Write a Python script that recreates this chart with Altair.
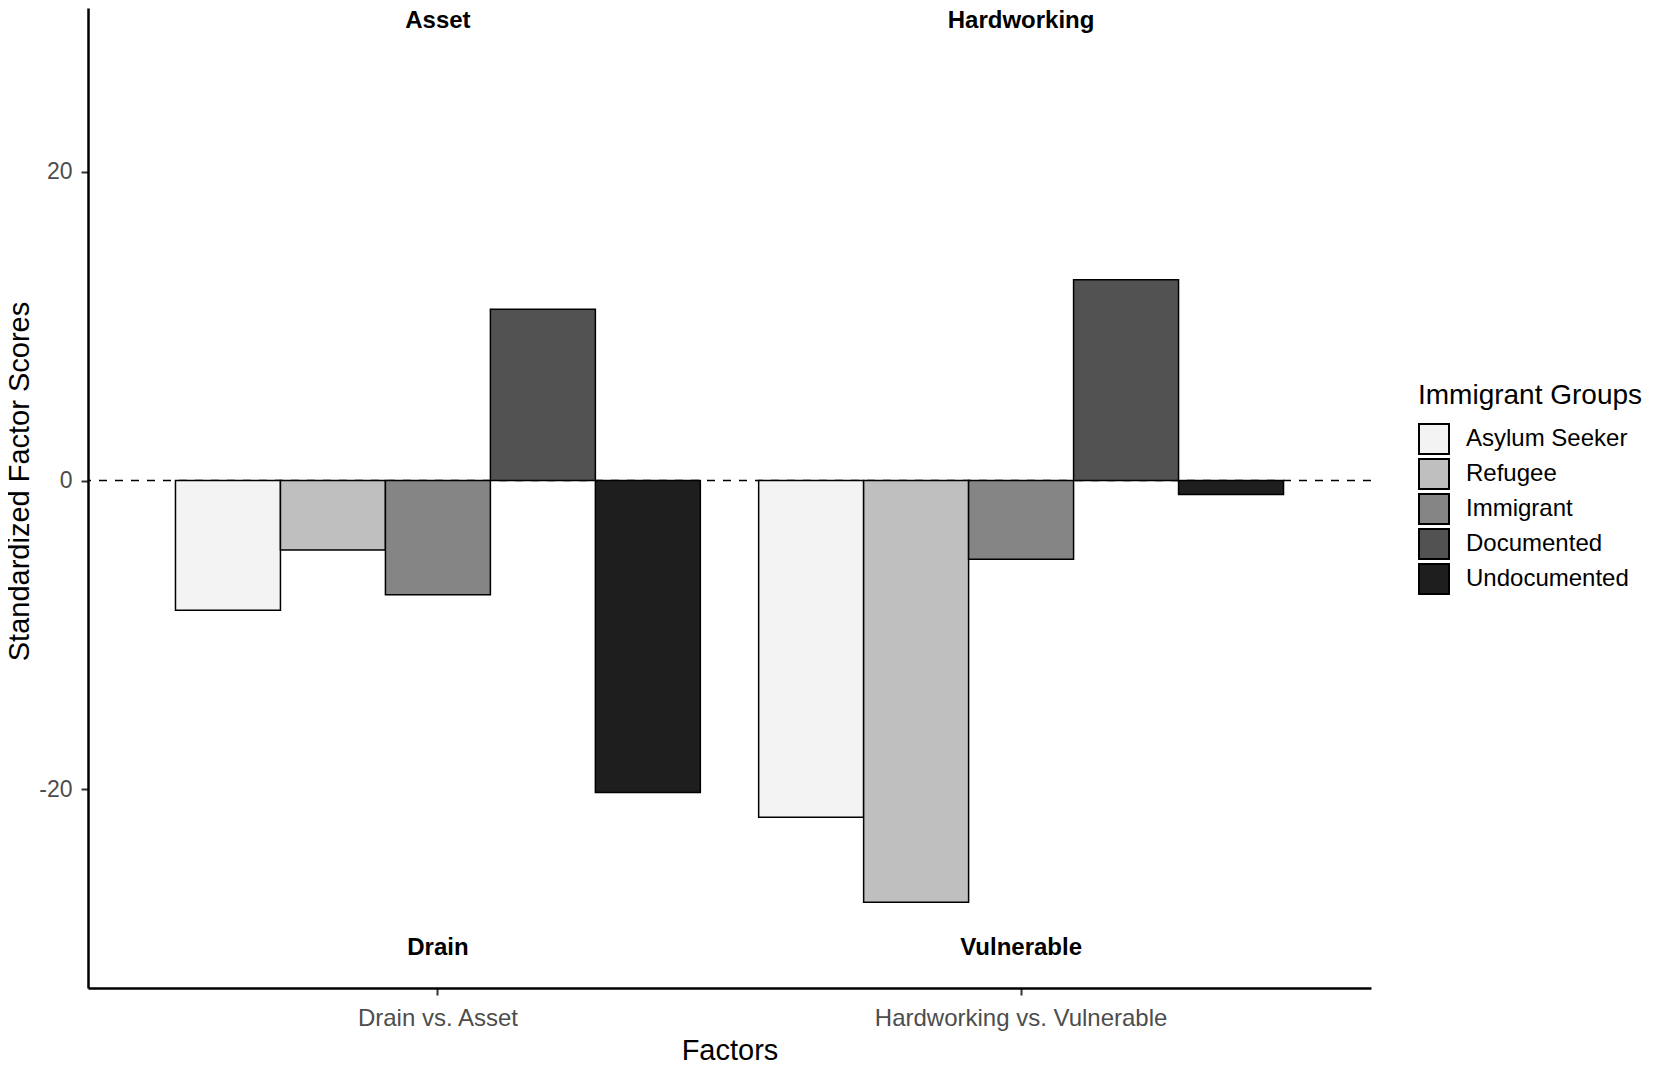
import altair as alt
import pandas as pd

factors = ["Drain vs. Asset", "Hardworking  vs. Vulnerable"]
groups = ["Asylum Seeker", "Refugee", "Immigrant", "Documented", "Undocumented"]
drain_asset = [-8.4, -4.5, -7.4, 11.1, -20.2]
hard_vuln = [-21.8, -27.3, -5.1, 13.0, -0.9]
fills = ["#f3f3f3", "#bfbfbf", "#858585", "#525252", "#1e1e1e"]

top_labels = ["Asset", "Hardworking"]
bottom_labels = ["Drain", "Vulnerable"]
label_pos = [30, -30]

rows = []
for f, vals in zip(factors, [drain_asset, hard_vuln]):
    for g, v in zip(groups, vals):
        rows.append({"factor": f, "group": g, "value": v})
df = pd.DataFrame(rows)

ann = pd.DataFrame(
    [{"factor": f, "label": t, "y": label_pos[0]} for f, t in zip(factors, top_labels)]
    + [{"factor": f, "label": t, "y": label_pos[1]} for f, t in zip(factors, bottom_labels)]
)
zero = pd.DataFrame({"z": [0]})

FONT = "Liberation Sans"

xscale = alt.Scale(domain=factors, paddingInner=0.1, paddingOuter=0.15)
yscale = alt.Scale(domain=[-32.86, 30.6], nice=False, zero=False)

xaxis = alt.Axis(
    title="Factors", labelAngle=0, labelFontSize=24, labelColor="#4d4d4d",
    labelFont=FONT, titleFont=FONT, titleFontSize=29, titleFontWeight="normal",
    titleColor="black", tickSize=7, tickWidth=2, tickColor="#333333",
    domainColor="black", domainWidth=2.5, labelPadding=11, grid=False,
    titleY=62, titleBaseline="middle", labelLimit=0,
)
yaxis = alt.Axis(
    title="Standardized Factor Scores", values=[-20, 0, 20], labelFontSize=23,
    labelColor="#4d4d4d", labelFont=FONT, titleFont=FONT, titleFontSize=29,
    titleFontWeight="normal", titleColor="black", tickSize=7, tickWidth=2,
    tickColor="#333333", domainColor="black", domainWidth=2.5, labelPadding=9,
    grid=False, titleX=-69, titleY=473, titleBaseline="middle", titleAlign="center",
    labelExpr="'' + datum.value",
)

rule = alt.Chart(zero).mark_rule(
    strokeDash=[8, 8], color="black", strokeWidth=1.6
).encode(y=alt.Y("z:Q", scale=yscale, axis=yaxis))

bars = alt.Chart(df).mark_bar(stroke="black", strokeWidth=1.5).encode(
    x=alt.X("factor:N", scale=xscale, sort=factors, axis=xaxis),
    xOffset=alt.XOffset("group:N", sort=groups,
                        scale=alt.Scale(domain=groups, paddingInner=0, paddingOuter=0)),
    y=alt.Y("value:Q", scale=yscale, axis=yaxis),
    fill=alt.Fill(
        "group:N", sort=groups,
        scale=alt.Scale(domain=groups, range=fills),
        legend=alt.Legend(
            title="Immigrant Groups", orient="none", legendX=1330, legendY=374,
            titleFont=FONT, titleFontSize=28, titleFontWeight="normal",
            titleColor="black", titlePadding=13, titleLimit=0, labelFont=FONT,
            labelFontSize=24, labelColor="black", labelLimit=0,
            symbolType="square", symbolSize=900,
            symbolStrokeColor="black", symbolStrokeWidth=2, symbolOpacity=1,
            rowPadding=-8, labelOffset=16,
        ),
    ),
)

text = alt.Chart(ann).mark_text(
    font=FONT, fontSize=24, fontWeight="bold", color="black", baseline="middle", dy=4
).encode(
    x=alt.X("factor:N", scale=xscale, sort=factors, axis=xaxis),
    y=alt.Y("y:Q", scale=yscale, axis=yaxis),
    text="label:N",
)

chart = alt.layer(rule, bars, text).properties(
    width=1283, height=980,
    background="white",
    autosize=alt.AutoSizeParams(type="none"),
    padding={"left": 80, "top": 0, "right": 272, "bottom": 76},
).configure_view(strokeWidth=0, stroke="transparent")

chart.save("out.html", embed_options={"renderer": "svg", "actions": False})
